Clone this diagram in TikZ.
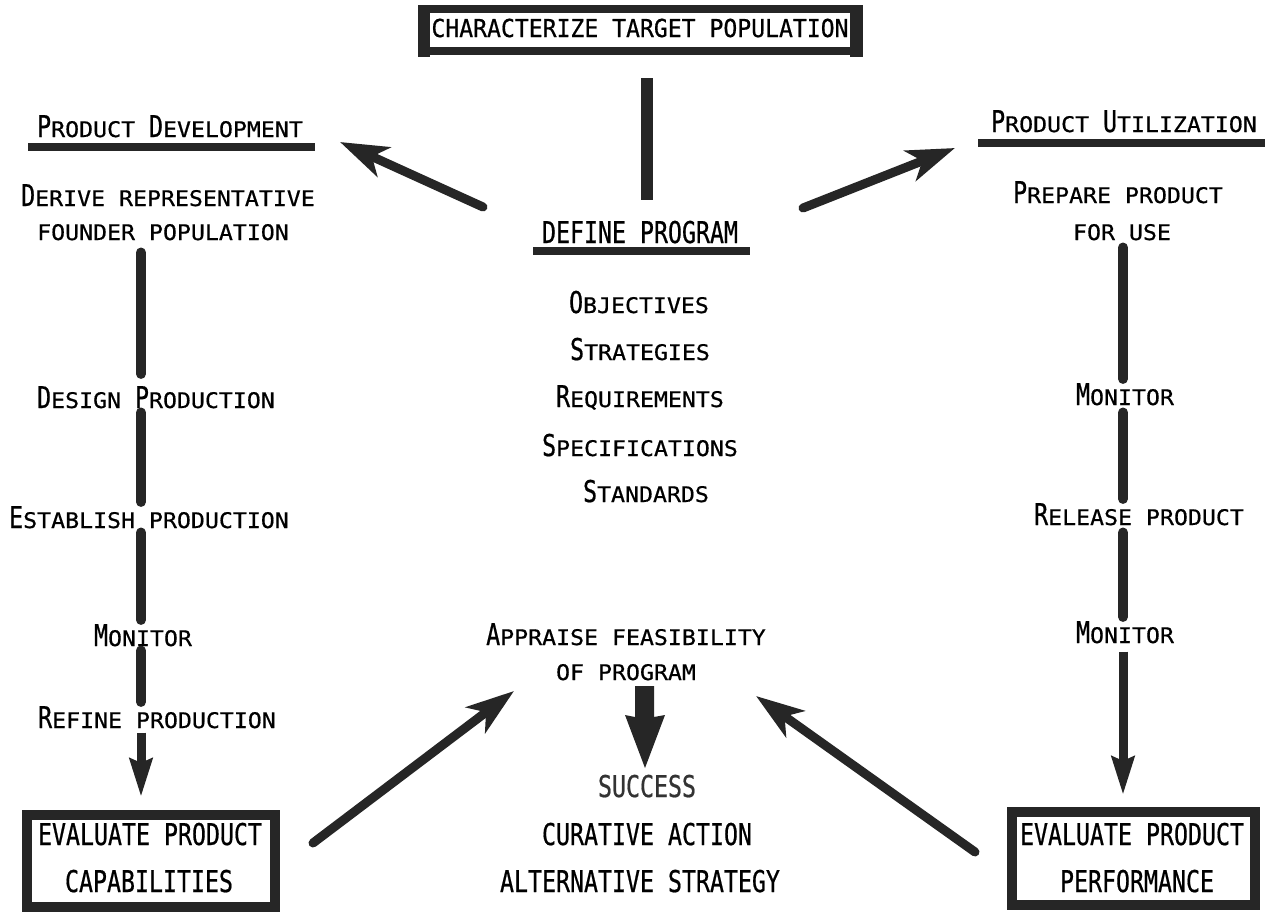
\documentclass[tikz,border=0pt]{standalone}
\usepackage{fontspec}
\usetikzlibrary{arrows.meta}
\newfontfamily\capf[FakeStretch=0.775,FakeBold=0.6]{DejaVu Sans Mono}
\newfontfamily\capg[FakeStretch=0.935,FakeBold=0.6]{DejaVu Sans Mono}
\newfontfamily\smf[FakeStretch=1.08,FakeBold=0.6]{DejaVu Sans Mono}
\newcommand\Cap[1]{{\fontsize{30}{36}\selectfont\capf #1}}
\newcommand\Cbig[1]{{\fontsize{24.7}{30}\selectfont\capg #1}}
\newcommand\Sm[1]{{\fontsize{21.5}{25}\selectfont\smf #1}}
\definecolor{ink}{HTML}{262626}
\tikzset{
  txt/.style={anchor=base, inner xsep=2pt, inner ysep=4pt, text=black},
  bar/.style={draw=ink, line width=10pt, line cap=round},
  uline/.style={draw=ink, line width=8pt},
  boxline/.style={draw=ink, line width=10pt},
  thinarrow/.style={draw=ink, line width=9pt, -{Stealth[length=38pt,width=22pt,inset=4pt]}},
  diagarrow/.style={draw=ink, line width=9pt, line cap=round, -{Stealth[length=48pt,width=32pt,inset=13pt]}},
}
\begin{document}
\begin{tikzpicture}[x=1pt,y=-1pt]
\useasboundingbox (0,0) rectangle (1265,914);
\fill[white] (0,0) rectangle (1265,914);

% top box
\node[txt] (ctp) at (640,37) {\Cbig{CHARACTERIZE TARGET POPULATION}};
\draw[ink, line width=8pt] (424,9) rectangle (857,51);
\fill[ink] (418,5) rectangle (430,57);
\fill[ink] (850,5) rectangle (863,57);

% define program
\node[txt] (def) at (640,243) {\Cap{DEFINE PROGRAM}};
\fill[ink] (641,78) rectangle (653,200);
\draw[uline] (533,251) -- (750,251);

\node[txt] (obj) at (639,313) {\Cap{O}\Sm{BJECTIVES}};
\node[txt] (str) at (640,360) {\Cap{S}\Sm{TRATEGIES}};
\node[txt] (req) at (640,407) {\Cap{R}\Sm{EQUIREMENTS}};
\node[txt] (spe) at (640,456) {\Cap{S}\Sm{PECIFICATIONS}};
\node[txt] (sta) at (646,502) {\Cap{S}\Sm{TANDARDS}};

% headings
\node[txt] (pd) at (170,137) {\Cap{P}\Sm{RODUCT }\Cap{D}\Sm{EVELOPMENT}};
\draw[uline] (28,147) -- (315,147);
\node[txt] (pu) at (1124,132) {\Cap{P}\Sm{RODUCT }\Cap{U}\Sm{TILIZATION}};
\draw[uline] (978,143) -- (1265,143);

% diagonal arrows at the top
\coordinate (tlS) at (483,207);
\coordinate (tlE) at (340,142);
\coordinate (trS) at (803,208);
\coordinate (trE) at (955,148);
\draw[diagarrow] (tlS) -- (tlE);
\draw[diagarrow] (trS) -- (trE);

% left column
\coordinate (lcol) at (141,0);
\node[txt] (der1) at (168,206) {\Cap{D}\Sm{ERIVE REPRESENTATIVE}};
\node[txt] (der2) at (163,240) {\Sm{FOUNDER POPULATION}};
\node[txt] (des) at (156,408) {\Cap{D}\Sm{ESIGN }\Cap{P}\Sm{RODUCTION}};
\node[txt] (est) at (149,528) {\Cap{E}\Sm{STABLISH PRODUCTION}};
\node[txt] (lmon) at (143,646) {\Cap{M}\Sm{ONITOR}};
\node[txt] (ref) at (157,728) {\Cap{R}\Sm{EFINE PRODUCTION}};
\draw[bar, shorten <=8pt, shorten >=8pt] (der2.south -| lcol) -- (des.north -| lcol);
\draw[bar] (des.south -| lcol) -- (est.north -| lcol);
\draw[bar] (est.south -| lcol) -- (lmon.north -| lcol);
\draw[bar] (lmon.south -| lcol) -- (ref.north -| lcol);

\node[txt] (cap1) at (150,845) {\Cap{EVALUATE PRODUCT}};
\node[txt] (cap2) at (149,892) {\Cap{CAPABILITIES}};
\draw[boxline] (27,815) rectangle (275,907);
\coordinate (capTop) at (141,797);
\draw[thinarrow] (ref.south -| lcol) -- (capTop);

% right column
\coordinate (rcol) at (1123,0);
\node[txt] (pre1) at (1118,203) {\Cap{P}\Sm{REPARE PRODUCT}};
\node[txt] (pre2) at (1122,240) {\Sm{FOR USE}};
\node[txt] (rmon1) at (1125,405) {\Cap{M}\Sm{ONITOR}};
\node[txt] (rel) at (1139,525) {\Cap{R}\Sm{ELEASE PRODUCT}};
\node[txt] (rmon2) at (1125,643) {\Cap{M}\Sm{ONITOR}};
\draw[bar, shorten <=3pt] (pre2.south -| rcol) -- (rmon1.north -| rcol);
\draw[bar, shorten <=3pt] (rmon1.south -| rcol) -- (rel.north -| rcol);
\draw[bar, shorten <=3pt] (rel.south -| rcol) -- (rmon2.north -| rcol);

\node[txt] (per1) at (1132,845) {\Cap{EVALUATE PRODUCT}};
\node[txt] (per2) at (1137,892) {\Cap{PERFORMANCE}};
\draw[boxline] (1012,812) rectangle (1255,905);
\coordinate (perTop) at (1123,795);
\draw[thinarrow, shorten <=4pt] (rmon2.south -| rcol) -- (perTop);

% appraise
\node[txt] (app1) at (626,645) {\Cap{A}\Sm{PPRAISE FEASIBILITY}};
\node[txt] (app2) at (626,680) {\Sm{OF PROGRAM}};
\fill[ink] (635,686) -- (654,686) -- (654,717) -- (665,715) -- (645,768)
  -- (625,715) -- (635,717) -- cycle;

\node[txt, text=black!80] (suc) at (647,797) {\Cap{SUCCESS}};
\node[txt] (cur) at (647,845) {\Cap{CURATIVE ACTION}};
\node[txt] (alt) at (640,892) {\Cap{ALTERNATIVE STRATEGY}};

% bottom diagonal arrows
\coordinate (blS) at (313,843);
\coordinate (blE) at (514,691);
\coordinate (brS) at (975,852);
\coordinate (brE) at (756,696);
\draw[diagarrow] (blS) -- (blE);
\draw[diagarrow] (brS) -- (brE);
\end{tikzpicture}
\end{document}
